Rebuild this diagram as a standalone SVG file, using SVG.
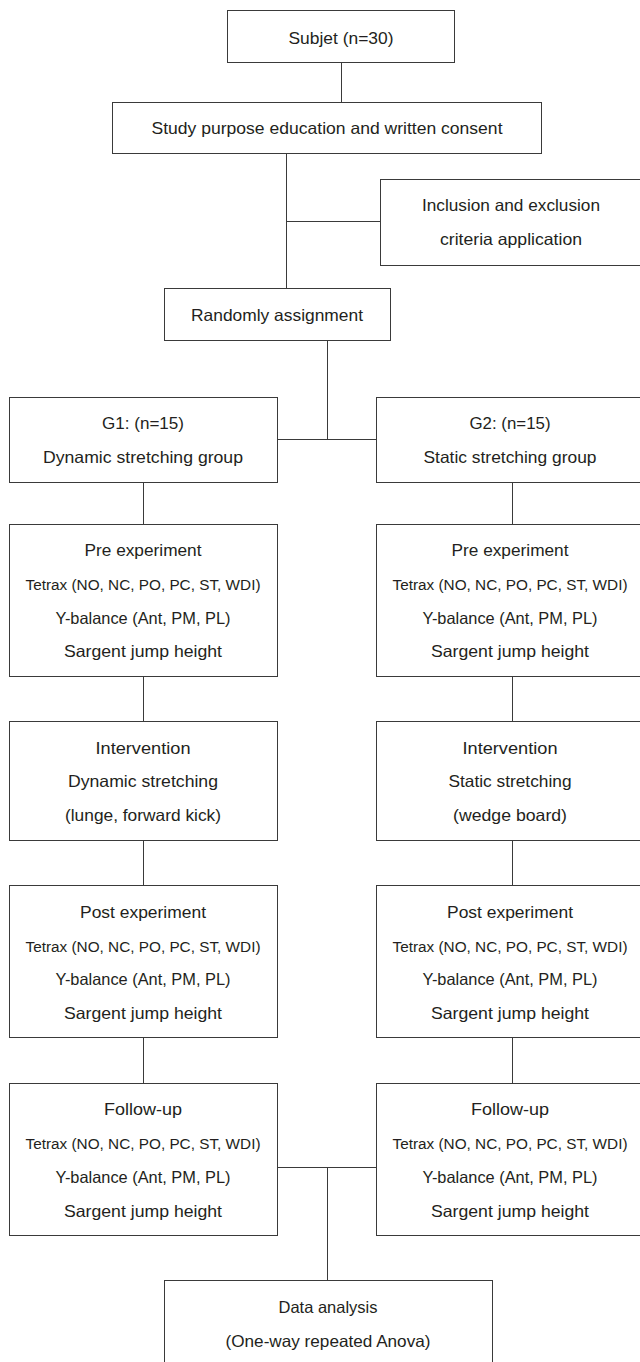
<svg xmlns="http://www.w3.org/2000/svg" width="640" height="1362" viewBox="0 0 640 1362">
  <style>
    .box { fill: #ffffff; stroke: #3a3a3a; stroke-width: 1; }
    .conn { fill: none; stroke: #3a3a3a; stroke-width: 1; }
    text { font-family: "Liberation Sans", Arial, sans-serif; font-size: 16.5px; fill: #231f20; text-anchor: middle; }
    text.t { font-size: 15.5px; }
  </style>
  <rect x="0" y="0" width="640" height="1362" fill="#ffffff"/>
  <g id="connectors">
    <path class="conn" d="M341.5 62.5 V102.5"/>
    <path class="conn" d="M286.5 153.5 V288.5"/>
    <path class="conn" d="M286.5 221.5 H380.5"/>
    <path class="conn" d="M327.5 340.5 V439.5"/>
    <path class="conn" d="M277.5 439.5 H376.5"/>
    <path class="conn" d="M143.5 482.5 V524.5 M143.5 676.5 V721.5 M143.5 840.5 V885.5 M143.5 1037.5 V1083.5"/>
    <path class="conn" d="M512.5 482.5 V524.5 M512.5 676.5 V721.5 M512.5 840.5 V885.5 M512.5 1037.5 V1083.5"/>
    <path class="conn" d="M277.5 1167.5 H376.5"/>
    <path class="conn" d="M327.5 1167.5 V1280.5"/>
  </g>
  <g id="subject">
    <rect class="box" x="227.5" y="10.5" width="227" height="52"/>
    <text x="341" y="44" textLength="105" lengthAdjust="spacingAndGlyphs">Subjet (n=30)</text>
  </g>
  <g id="consent">
    <rect class="box" x="112.5" y="102.5" width="429" height="51"/>
    <text x="327" y="134" textLength="351" lengthAdjust="spacingAndGlyphs">Study purpose education and written consent</text>
  </g>
  <g id="criteria">
    <rect class="box" x="380.5" y="179.5" width="262" height="86"/>
    <text x="511" y="211" textLength="178" lengthAdjust="spacingAndGlyphs">Inclusion and exclusion</text>
    <text x="511" y="245" textLength="142" lengthAdjust="spacingAndGlyphs">criteria application</text>
  </g>
  <g id="random">
    <rect class="box" x="164.5" y="288.5" width="226" height="52"/>
    <text x="277" y="321" textLength="172" lengthAdjust="spacingAndGlyphs">Randomly assignment</text>
  </g>
  <g id="g1">
    <rect class="box" x="9.5" y="397.5" width="268" height="85"/>
    <text x="143" y="429" textLength="82" lengthAdjust="spacingAndGlyphs">G1: (n=15)</text>
    <text x="143" y="463" textLength="200" lengthAdjust="spacingAndGlyphs">Dynamic stretching group</text>
  </g>
  <g id="g2">
    <rect class="box" x="376.5" y="397.5" width="266" height="85"/>
    <text x="510" y="429" textLength="81" lengthAdjust="spacingAndGlyphs">G2: (n=15)</text>
    <text x="510" y="463" textLength="173" lengthAdjust="spacingAndGlyphs">Static stretching group</text>
  </g>
  <g id="pre1">
    <rect class="box" x="9.5" y="524.5" width="268" height="152"/>
    <text x="143" y="556" textLength="117" lengthAdjust="spacingAndGlyphs">Pre experiment</text>
    <text class="t" x="143" y="590" textLength="235" lengthAdjust="spacingAndGlyphs">Tetrax (NO, NC, PO, PC, ST, WDI)</text>
    <text x="143" y="624" textLength="175" lengthAdjust="spacingAndGlyphs">Y-balance (Ant, PM, PL)</text>
    <text x="143" y="657" textLength="158" lengthAdjust="spacingAndGlyphs">Sargent jump height</text>
  </g>
  <g id="pre2">
    <rect class="box" x="376.5" y="524.5" width="266" height="152"/>
    <text x="510" y="556" textLength="117" lengthAdjust="spacingAndGlyphs">Pre experiment</text>
    <text class="t" x="510" y="590" textLength="235" lengthAdjust="spacingAndGlyphs">Tetrax (NO, NC, PO, PC, ST, WDI)</text>
    <text x="510" y="624" textLength="175" lengthAdjust="spacingAndGlyphs">Y-balance (Ant, PM, PL)</text>
    <text x="510" y="657" textLength="158" lengthAdjust="spacingAndGlyphs">Sargent jump height</text>
  </g>
  <g id="int1">
    <rect class="box" x="9.5" y="721.5" width="268" height="119"/>
    <text x="143" y="754" textLength="95" lengthAdjust="spacingAndGlyphs">Intervention</text>
    <text x="143" y="787" textLength="150" lengthAdjust="spacingAndGlyphs">Dynamic stretching</text>
    <text x="143" y="821" textLength="156" lengthAdjust="spacingAndGlyphs">(lunge, forward kick)</text>
  </g>
  <g id="int2">
    <rect class="box" x="376.5" y="721.5" width="266" height="119"/>
    <text x="510" y="754" textLength="95" lengthAdjust="spacingAndGlyphs">Intervention</text>
    <text x="510" y="787" textLength="123" lengthAdjust="spacingAndGlyphs">Static stretching</text>
    <text x="510" y="821" textLength="114" lengthAdjust="spacingAndGlyphs">(wedge board)</text>
  </g>
  <g id="post1">
    <rect class="box" x="9.5" y="885.5" width="268" height="152"/>
    <text x="143" y="918" textLength="126" lengthAdjust="spacingAndGlyphs">Post experiment</text>
    <text class="t" x="143" y="952" textLength="235" lengthAdjust="spacingAndGlyphs">Tetrax (NO, NC, PO, PC, ST, WDI)</text>
    <text x="143" y="985" textLength="175" lengthAdjust="spacingAndGlyphs">Y-balance (Ant, PM, PL)</text>
    <text x="143" y="1019" textLength="158" lengthAdjust="spacingAndGlyphs">Sargent jump height</text>
  </g>
  <g id="post2">
    <rect class="box" x="376.5" y="885.5" width="266" height="152"/>
    <text x="510" y="918" textLength="126" lengthAdjust="spacingAndGlyphs">Post experiment</text>
    <text class="t" x="510" y="952" textLength="235" lengthAdjust="spacingAndGlyphs">Tetrax (NO, NC, PO, PC, ST, WDI)</text>
    <text x="510" y="985" textLength="175" lengthAdjust="spacingAndGlyphs">Y-balance (Ant, PM, PL)</text>
    <text x="510" y="1019" textLength="158" lengthAdjust="spacingAndGlyphs">Sargent jump height</text>
  </g>
  <g id="follow1">
    <rect class="box" x="9.5" y="1083.5" width="268" height="152"/>
    <text x="143" y="1115" textLength="78" lengthAdjust="spacingAndGlyphs">Follow-up</text>
    <text class="t" x="143" y="1149" textLength="235" lengthAdjust="spacingAndGlyphs">Tetrax (NO, NC, PO, PC, ST, WDI)</text>
    <text x="143" y="1183" textLength="175" lengthAdjust="spacingAndGlyphs">Y-balance (Ant, PM, PL)</text>
    <text x="143" y="1217" textLength="158" lengthAdjust="spacingAndGlyphs">Sargent jump height</text>
  </g>
  <g id="follow2">
    <rect class="box" x="376.5" y="1083.5" width="266" height="152"/>
    <text x="510" y="1115" textLength="78" lengthAdjust="spacingAndGlyphs">Follow-up</text>
    <text class="t" x="510" y="1149" textLength="235" lengthAdjust="spacingAndGlyphs">Tetrax (NO, NC, PO, PC, ST, WDI)</text>
    <text x="510" y="1183" textLength="175" lengthAdjust="spacingAndGlyphs">Y-balance (Ant, PM, PL)</text>
    <text x="510" y="1217" textLength="158" lengthAdjust="spacingAndGlyphs">Sargent jump height</text>
  </g>
  <g id="analysis">
    <rect class="box" x="164.5" y="1280.5" width="328" height="90"/>
    <text x="328" y="1313" textLength="99" lengthAdjust="spacingAndGlyphs">Data analysis</text>
    <text x="328" y="1347" textLength="205" lengthAdjust="spacingAndGlyphs">(One-way repeated Anova)</text>
  </g>
</svg>
